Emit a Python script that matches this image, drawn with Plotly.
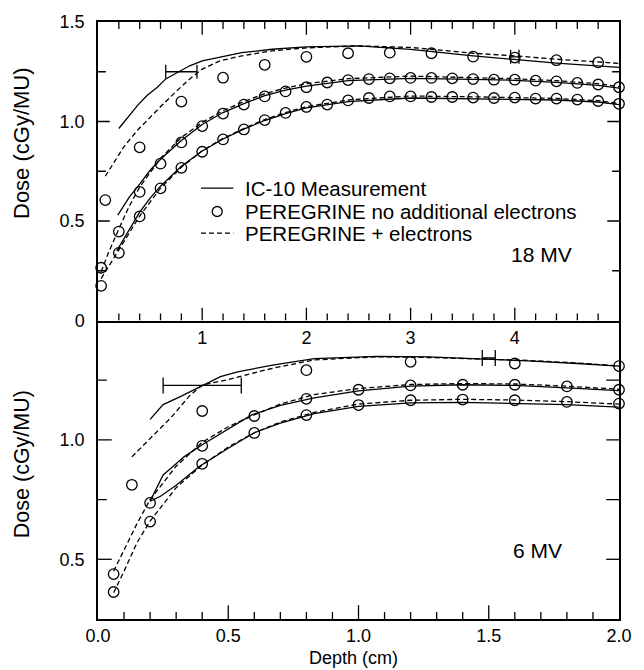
import plotly.graph_objects as go

# ---------------- 18 MV (top panel, depth 0-5) ----------------
meas18_a_x = [0.2, 0.29, 0.38, 0.47, 0.57, 0.65, 0.76, 0.88, 1.0, 1.23, 1.38, 1.67, 2.0, 2.5, 3.0, 3.6, 4.0, 4.4, 5.0]
meas18_a_y = [0.965, 1.023, 1.081, 1.131, 1.172, 1.214, 1.247, 1.28, 1.305, 1.33, 1.346, 1.363, 1.375, 1.38, 1.362, 1.33, 1.313, 1.293, 1.272]
el18_a_x = [0.07, 0.16, 0.25, 0.38, 0.5, 0.63, 0.76, 0.88, 1.0, 1.17, 1.38, 1.67, 2.0, 2.5, 3.0, 3.6, 4.0, 4.4, 5.0]
el18_a_y = [0.725, 0.80, 0.874, 0.957, 1.023, 1.09, 1.156, 1.214, 1.263, 1.305, 1.33, 1.355, 1.37, 1.38, 1.372, 1.343, 1.33, 1.313, 1.292]
noel18_a_x = [0.07, 0.4, 0.8, 1.2, 1.6, 2.0, 2.4, 2.8, 3.2, 3.6, 4.0, 4.4, 4.8]
noel18_a_y = [0.605, 0.87, 1.10, 1.22, 1.285, 1.325, 1.343, 1.346, 1.343, 1.326, 1.321, 1.308, 1.297]

meas18_b_x = [0.19, 0.3, 0.4, 0.5, 0.6, 0.8, 1.0, 1.2, 1.4, 1.6, 1.8, 2.0, 2.4, 3.0, 3.6, 4.0, 4.4, 4.8, 5.0]
meas18_b_y = [0.53, 0.62, 0.685, 0.755, 0.81, 0.905, 0.985, 1.045, 1.09, 1.13, 1.158, 1.178, 1.205, 1.217, 1.212, 1.207, 1.197, 1.182, 1.168]
el18_b_x = [0.03, 0.1, 0.2, 0.3, 0.4, 0.6, 0.8, 1.0, 1.2, 1.4, 1.6, 1.8, 2.0, 2.4, 3.0, 3.6, 4.0, 4.4, 4.8, 5.0]
el18_b_y = [0.245, 0.34, 0.46, 0.575, 0.67, 0.815, 0.92, 0.995, 1.055, 1.1, 1.14, 1.168, 1.19, 1.215, 1.228, 1.222, 1.215, 1.205, 1.19, 1.175]
noel18_bc_x = [0.03, 0.2, 0.4, 0.6, 0.8, 1.0, 1.2, 1.4, 1.6, 1.8, 2.0, 2.2, 2.4, 2.6, 2.8, 3.0,
               3.2, 3.4, 3.6, 3.8, 4.0, 4.2, 4.4, 4.6, 4.8, 5.0]
noel18_b_y = [0.265, 0.447, 0.646, 0.788, 0.895, 0.977, 1.04, 1.085, 1.126, 1.151, 1.172, 1.196, 1.208,
              1.213, 1.217, 1.219, 1.219, 1.217, 1.213, 1.21, 1.21, 1.205, 1.202, 1.194, 1.186, 1.172]

meas18_c_x = [0.18, 0.3, 0.4, 0.5, 0.6, 0.8, 1.0, 1.2, 1.4, 1.6, 1.8, 2.0, 2.4, 3.0, 3.6, 4.0, 4.4, 4.8, 5.0]
meas18_c_y = [0.35, 0.46, 0.545, 0.615, 0.675, 0.775, 0.852, 0.912, 0.962, 1.005, 1.04, 1.068, 1.1, 1.118, 1.115, 1.112, 1.108, 1.098, 1.085]
el18_c_x = [0.03, 0.1, 0.2, 0.3, 0.4, 0.6, 0.8, 1.0, 1.2, 1.4, 1.6, 1.8, 2.0, 2.4, 3.0, 3.6, 4.0, 4.4, 4.8, 5.0]
el18_c_y = [0.21, 0.27, 0.35, 0.44, 0.525, 0.665, 0.77, 0.853, 0.915, 0.965, 1.01, 1.045, 1.075, 1.108, 1.128, 1.124, 1.12, 1.116, 1.105, 1.09]
noel18_c_y = [0.174, 0.34, 0.523, 0.664, 0.767, 0.848, 0.91, 0.96, 1.007, 1.043, 1.073, 1.085, 1.106,
              1.118, 1.126, 1.126, 1.123, 1.123, 1.12, 1.118, 1.12, 1.115, 1.115, 1.11, 1.103, 1.089]

err18_x = [0.8, 4.0]
err18_y = [1.25, 1.325]
err18_dx = [0.15, 0.04]

# ---------------- 6 MV (bottom panel, depth 0-2) ----------------
meas6_a_x = [0.2, 0.25, 0.32, 0.37, 0.42, 0.47, 0.54, 0.62, 0.67, 0.83, 1.07, 1.27, 1.46, 1.65, 1.84, 2.0]
meas6_a_y = [1.086, 1.148, 1.183, 1.21, 1.238, 1.265, 1.286, 1.303, 1.313, 1.34, 1.35, 1.348, 1.34, 1.331, 1.32, 1.309]
el6_a_x = [0.13, 0.2, 0.28, 0.35, 0.4, 0.49, 0.59, 0.67, 0.83, 1.07, 1.27, 1.46, 1.65, 1.84, 2.0]
el6_a_y = [0.929, 1.004, 1.093, 1.183, 1.23, 1.25, 1.278, 1.30, 1.335, 1.348, 1.345, 1.34, 1.333, 1.322, 1.31]
noel6_a_x = [0.13, 0.4, 0.8, 1.2, 1.6, 2.0]
noel6_a_y = [0.812, 1.121, 1.292, 1.327, 1.32, 1.309]

meas6_b_x = [0.2, 0.23, 0.25, 0.3, 0.33, 0.4, 0.49, 0.59, 0.7, 0.83, 1.0, 1.2, 1.4, 1.6, 1.8, 2.0]
meas6_b_y = [0.743, 0.812, 0.853, 0.90, 0.929, 0.98, 1.038, 1.105, 1.145, 1.176, 1.205, 1.225, 1.231, 1.228, 1.218, 1.206]
el6_b_x = [0.06, 0.1, 0.15, 0.2, 0.3, 0.4, 0.5, 0.6, 0.7, 0.83, 1.0, 1.2, 1.4, 1.6, 1.8, 2.0]
el6_b_y = [0.45, 0.54, 0.65, 0.75, 0.89, 0.99, 1.055, 1.105, 1.15, 1.19, 1.215, 1.232, 1.236, 1.234, 1.225, 1.212]
noel6_bc_x = [0.06, 0.2, 0.4, 0.6, 0.8, 1.0, 1.2, 1.4, 1.6, 1.8, 2.0]
noel6_b_y = [0.438, 0.736, 0.975, 1.10, 1.172, 1.21, 1.228, 1.231, 1.231, 1.224, 1.21]

meas6_c_x = [0.2, 0.24, 0.3, 0.39, 0.5, 0.6, 0.7, 0.83, 1.0, 1.2, 1.4, 1.6, 1.8, 2.0]
meas6_c_y = [0.743, 0.764, 0.81, 0.89, 0.965, 1.03, 1.07, 1.11, 1.14, 1.155, 1.157, 1.153, 1.148, 1.137]
el6_c_x = [0.06, 0.1, 0.15, 0.2, 0.3, 0.4, 0.5, 0.6, 0.7, 0.83, 1.0, 1.2, 1.4, 1.6, 1.8, 2.0]
el6_c_y = [0.36, 0.45, 0.57, 0.66, 0.8, 0.895, 0.97, 1.03, 1.075, 1.115, 1.15, 1.166, 1.17, 1.167, 1.16, 1.15]
noel6_c_y = [0.363, 0.658, 0.90, 1.029, 1.104, 1.146, 1.166, 1.169, 1.166, 1.159, 1.152]

err6_x = [0.4, 1.5]
err6_y = [1.228, 1.343]
err6_dx = [0.15, 0.025]

# ---------------- tick labels ----------------
top_tick_vals = [1, 2, 3, 4]
top_tick_text = ["1", "2", "3", "4"]
top_y_vals = [0, 0.5, 1.0, 1.5]
top_y_text = ["0", "0.5", "1.0", "1.5"]
bot_x_vals = [0, 0.5, 1.0, 1.5, 2.0]
bot_x_text = ["0.0", "0.5", "1.0", "1.5", "2.0"]
bot_y_vals = [0.5, 1.0]
bot_y_text = ["0.5", "1.0"]

legend_names = ["IC-10 Measurement", "PEREGRINE no additional electrons", "PEREGRINE + electrons"]

FONT = "Liberation Sans, Arial, Helvetica, sans-serif"
BLACK = "black"
LW = 1.3
DASH = "5px,3px"
W, H = 644, 670
ML, MR, MT, MB = 98, 15, 14, 51
PLOT_W = W - ML - MR
PANEL_H = (H - MT - MB) / 2.0
TOP_XR, TOP_YR = (0, 5), (0, 1.5)
BOT_XR, BOT_YR = (0, 2), (0.25, 1.5)

fig = go.Figure()


def solid(x, y, xa, ya):
    fig.add_trace(go.Scatter(x=x, y=y, mode="lines", xaxis=xa, yaxis=ya,
                             line=dict(color=BLACK, width=LW), name=legend_names[0], showlegend=False))


def dashed(x, y, xa, ya):
    fig.add_trace(go.Scatter(x=x, y=y, mode="lines", xaxis=xa, yaxis=ya,
                             line=dict(color=BLACK, width=LW, dash=DASH), name=legend_names[2],
                             showlegend=False))


def circles(x, y, xa, ya):
    fig.add_trace(go.Scatter(x=x, y=y, mode="markers", xaxis=xa, yaxis=ya, cliponaxis=False,
                             marker=dict(symbol="circle-open", size=10.5, color=BLACK, line=dict(width=1.3)),
                             name=legend_names[1], showlegend=False))


def errs(x, y, dx, xa, ya, w):
    fig.add_trace(go.Scatter(x=x, y=y, mode="markers", xaxis=xa, yaxis=ya, showlegend=False,
                             marker=dict(size=1, color="rgba(0,0,0,0)"),
                             error_x=dict(type="data", array=dx, symmetric=True, color=BLACK,
                                          thickness=1.3, width=w)))


# ---- tick marks drawn as a line trace in each panel's data space ----
def tick_trace(xr, yr, xa, ya, xticks, yticks, top_edge):
    """xticks / yticks: lists of (value, length_px); lengths converted with the panel's scale."""
    ux = (xr[1] - xr[0]) / PLOT_W
    uy = (yr[1] - yr[0]) / PANEL_H
    xs, ys = [], []
    for v, ln in xticks:
        xs += [v, v, None]
        ys += [yr[0], yr[0] + ln * uy, None]
        if top_edge:
            xs += [v, v, None]
            ys += [yr[1], yr[1] - ln * uy, None]
    for v, ln, rln in yticks:
        xs += [xr[0], xr[0] + ln * ux, None, xr[1], xr[1] - rln * ux, None]
        ys += [v, v, None, v, v, None]
    fig.add_trace(go.Scatter(x=xs, y=ys, mode="lines", xaxis=xa, yaxis=ya, showlegend=False,
                             hoverinfo="skip", line=dict(color=BLACK, width=1.3)))


top_xticks = [(round(0.2 * i, 1), 13 if i % 5 == 0 else 7) for i in range(1, 25)]
top_yticks = [(0.25 * i, 12 if i % 2 == 0 else 8, 12 if i % 2 == 0 else 7) for i in range(1, 6)]
bot_xticks = [(round(0.1 * i, 1), 14 if i % 5 == 0 else 7) for i in range(1, 20)]
bot_yticks = [(0.25 + 0.25 * i, 14 if i % 2 == 1 else 9, 13) for i in range(1, 5)]

tick_trace(TOP_XR, TOP_YR, "x", "y", top_xticks, top_yticks, True)
tick_trace(BOT_XR, BOT_YR, "x2", "y2", bot_xticks, bot_yticks, False)

solid(meas18_a_x, meas18_a_y, "x", "y")
solid(meas18_b_x, meas18_b_y, "x", "y")
solid(meas18_c_x, meas18_c_y, "x", "y")
dashed(el18_a_x, el18_a_y, "x", "y")
dashed(el18_b_x, el18_b_y, "x", "y")
dashed(el18_c_x, el18_c_y, "x", "y")
circles(noel18_a_x, noel18_a_y, "x", "y")
circles(noel18_bc_x, noel18_b_y, "x", "y")
circles(noel18_bc_x, noel18_c_y, "x", "y")
errs(err18_x, err18_y, err18_dx, "x", "y", 7)

solid(meas6_a_x, meas6_a_y, "x2", "y2")
solid(meas6_b_x, meas6_b_y, "x2", "y2")
solid(meas6_c_x, meas6_c_y, "x2", "y2")
dashed(el6_a_x, el6_a_y, "x2", "y2")
dashed(el6_b_x, el6_b_y, "x2", "y2")
dashed(el6_c_x, el6_c_y, "x2", "y2")
circles(noel6_a_x, noel6_a_y, "x2", "y2")
circles(noel6_bc_x, noel6_b_y, "x2", "y2")
circles(noel6_bc_x, noel6_c_y, "x2", "y2")
errs(err6_x, err6_y, err6_dx, "x2", "y2", 8)

tickfont = dict(family=FONT, size=18, color=BLACK)
ax_base = dict(showline=True, linecolor=BLACK, linewidth=1.5, showgrid=False, zeroline=False,
               ticks="", tickfont=tickfont, tickmode="array")

fig.update_layout(
    width=W, height=H,
    margin=dict(l=ML, r=MR, t=MT, b=MB),
    paper_bgcolor="white", plot_bgcolor="white",
    font=dict(family=FONT, color=BLACK),
    showlegend=False,
    xaxis=dict(ax_base, domain=[0, 1], anchor="y", range=list(TOP_XR), mirror=True,
               tickvals=top_tick_vals, ticktext=top_tick_text),
    yaxis=dict(ax_base, domain=[0.5, 1], anchor="x", range=list(TOP_YR), mirror=True,
               tickvals=top_y_vals, ticktext=top_y_text, ticklabelstandoff=8),
    xaxis2=dict(ax_base, domain=[0, 1], anchor="y2", range=list(BOT_XR), mirror=False,
                tickvals=bot_x_vals, ticktext=bot_x_text),
    yaxis2=dict(ax_base, domain=[0, 0.5], anchor="x2", range=list(BOT_YR), mirror=True,
                tickvals=bot_y_vals, ticktext=bot_y_text, ticklabelstandoff=8),
)

# ---- legend drawn in the upper panel ----
leg_x0, leg_x1, leg_xc, leg_tx = 0.1977, 0.2599, 0.2288, 0.2787
leg_rows = [0.7218, 0.6826, 0.6463]
fig.add_shape(type="line", xref="paper", yref="paper", x0=leg_x0, x1=leg_x1, y0=leg_rows[0], y1=leg_rows[0],
              line=dict(color=BLACK, width=LW))
fig.add_shape(type="circle", xref="paper", yref="paper", xsizemode="pixel", ysizemode="pixel",
              xanchor=leg_xc, yanchor=leg_rows[1], x0=-5, x1=5, y0=-5, y1=5,
              line=dict(color=BLACK, width=1.3))
fig.add_shape(type="line", xref="paper", yref="paper", x0=leg_x0, x1=leg_x1, y0=leg_rows[2], y1=leg_rows[2],
              line=dict(color=BLACK, width=LW, dash=DASH))
for name, ry in zip(legend_names, leg_rows):
    fig.add_annotation(text=name, xref="paper", yref="paper", x=leg_tx, y=ry, showarrow=False,
                       xanchor="left", yanchor="middle", font=dict(family=FONT, size=20.5, color=BLACK))

fig.add_annotation(text="Dose (cGy/MU)", xref="paper", yref="paper", x=-0.147, y=0.798, textangle=-90,
                   showarrow=False, xanchor="center", yanchor="middle",
                   font=dict(family=FONT, size=22, color=BLACK))
fig.add_annotation(text="Dose (cGy/MU)", xref="paper", yref="paper", x=-0.147, y=0.26, textangle=-90,
                   showarrow=False, xanchor="center", yanchor="middle",
                   font=dict(family=FONT, size=21.5, color=BLACK))
fig.add_annotation(text="Depth (cm)", xref="paper", yref="paper", x=0.49, y=-0.0655, showarrow=False,
                   xanchor="center", yanchor="middle", font=dict(family=FONT, size=18, color=BLACK))
fig.add_annotation(text="18 MV", xref="x", yref="y", x=4.256, y=0.33, showarrow=False,
                   xanchor="center", yanchor="middle", font=dict(family=FONT, size=21, color=BLACK))
fig.add_annotation(text="6 MV", xref="x2", yref="y2", x=1.687, y=0.537, showarrow=False,
                   xanchor="center", yanchor="middle", font=dict(family=FONT, size=21, color=BLACK))

fig.write_html("out.html")
